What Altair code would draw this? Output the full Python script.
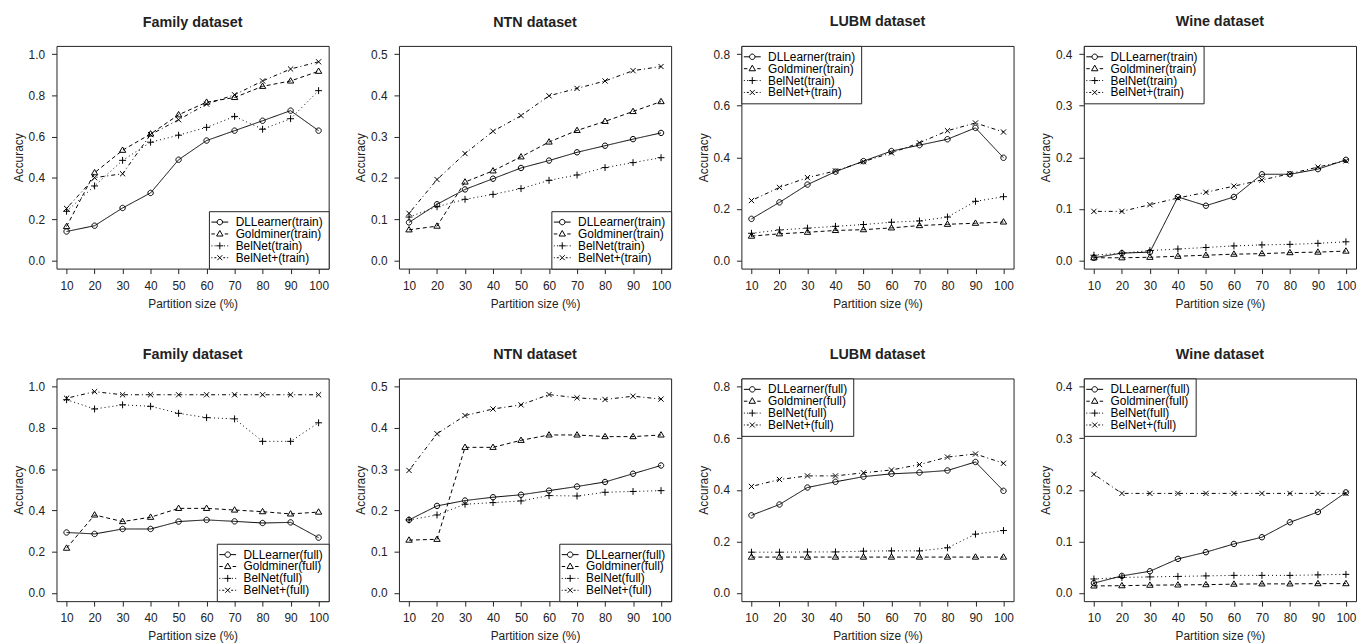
import altair as alt
import pandas as pd

SIZES = [10, 20, 30, 40, 50, 60, 70, 80, 90, 100]
METHODS = ["DLLearner", "Goldminer", "BelNet", "BelNet+"]

FAMILY_TRAIN = {
    "DLLearner": [0.140, 0.168, 0.254, 0.327, 0.488, 0.581, 0.629, 0.677, 0.726, 0.629],
    "Goldminer": [0.164, 0.425, 0.534, 0.613, 0.706, 0.767, 0.790, 0.844, 0.870, 0.917],
    "BelNet":    [0.238, 0.361, 0.485, 0.573, 0.607, 0.645, 0.698, 0.636, 0.687, 0.823],
    "BelNet+":   [0.252, 0.401, 0.420, 0.610, 0.682, 0.758, 0.803, 0.870, 0.928, 0.963],
}
NTN_TRAIN = {
    "DLLearner": [0.092, 0.136, 0.172, 0.198, 0.224, 0.242, 0.262, 0.278, 0.294, 0.309],
    "Goldminer": [0.074, 0.083, 0.190, 0.217, 0.251, 0.287, 0.315, 0.337, 0.361, 0.385],
    "BelNet":    [0.105, 0.130, 0.148, 0.160, 0.174, 0.194, 0.207, 0.225, 0.237, 0.249],
    "BelNet+":   [0.114, 0.196, 0.259, 0.313, 0.351, 0.399, 0.417, 0.435, 0.460, 0.470],
}
LUBM_TRAIN = {
    "DLLearner": [0.161, 0.225, 0.294, 0.344, 0.385, 0.424, 0.447, 0.470, 0.514, 0.398],
    "Goldminer": [0.094, 0.103, 0.109, 0.116, 0.119, 0.126, 0.135, 0.140, 0.144, 0.149],
    "BelNet":    [0.105, 0.118, 0.125, 0.132, 0.139, 0.148, 0.153, 0.168, 0.229, 0.247],
    "BelNet+":   [0.232, 0.283, 0.321, 0.347, 0.383, 0.417, 0.456, 0.503, 0.533, 0.498],
}
WINE_TRAIN = {
    "DLLearner": [0.005, 0.014, 0.016, 0.123, 0.106, 0.123, 0.167, 0.167, 0.177, 0.195],
    "Goldminer": [0.005, 0.005, 0.006, 0.008, 0.010, 0.012, 0.013, 0.015, 0.016, 0.018],
    "BelNet":    [0.010, 0.014, 0.019, 0.022, 0.025, 0.028, 0.030, 0.031, 0.033, 0.036],
    "BelNet+":   [0.095, 0.095, 0.108, 0.121, 0.132, 0.144, 0.156, 0.168, 0.181, 0.193],
}
FAMILY_FULL = {
    "DLLearner": [0.293, 0.286, 0.310, 0.310, 0.346, 0.354, 0.347, 0.339, 0.342, 0.268],
    "Goldminer": [0.217, 0.378, 0.346, 0.367, 0.410, 0.410, 0.402, 0.394, 0.383, 0.392],
    "BelNet":    [0.937, 0.892, 0.912, 0.905, 0.871, 0.850, 0.844, 0.735, 0.735, 0.825],
    "BelNet+":   [0.944, 0.976, 0.961, 0.961, 0.961, 0.961, 0.961, 0.961, 0.961, 0.961],
}
NTN_FULL = {
    "DLLearner": [0.177, 0.211, 0.224, 0.232, 0.238, 0.248, 0.258, 0.269, 0.289, 0.309],
    "Goldminer": [0.128, 0.130, 0.353, 0.353, 0.370, 0.383, 0.383, 0.379, 0.379, 0.383],
    "BelNet":    [0.177, 0.189, 0.215, 0.219, 0.223, 0.236, 0.235, 0.244, 0.246, 0.248],
    "BelNet+":   [0.297, 0.386, 0.430, 0.446, 0.456, 0.481, 0.473, 0.469, 0.477, 0.470],
}
LUBM_FULL = {
    "DLLearner": [0.301, 0.343, 0.409, 0.431, 0.451, 0.462, 0.467, 0.475, 0.508, 0.396],
    "Goldminer": [0.139, 0.139, 0.139, 0.139, 0.139, 0.139, 0.139, 0.139, 0.139, 0.139],
    "BelNet":    [0.158, 0.158, 0.159, 0.159, 0.162, 0.163, 0.163, 0.175, 0.228, 0.242],
    "BelNet+":   [0.413, 0.440, 0.454, 0.454, 0.466, 0.477, 0.498, 0.527, 0.539, 0.503],
}
WINE_FULL = {
    "DLLearner": [0.019, 0.033, 0.042, 0.066, 0.079, 0.095, 0.108, 0.137, 0.157, 0.195],
    "Goldminer": [0.0135, 0.014, 0.015, 0.0155, 0.016, 0.017, 0.0175, 0.0175, 0.018, 0.018],
    "BelNet":    [0.027, 0.030, 0.031, 0.032, 0.033, 0.034, 0.034, 0.034, 0.035, 0.036],
    "BelNet+":   [0.230, 0.193, 0.193, 0.193, 0.193, 0.193, 0.193, 0.193, 0.193, 0.193],
}

TICKS_FAMILY = [0.0, 0.2, 0.4, 0.6, 0.8, 1.0]
TICKS_NTN = [0.0, 0.1, 0.2, 0.3, 0.4, 0.5]
TICKS_LUBM = [0.0, 0.2, 0.4, 0.6, 0.8]
TICKS_WINE = [0.0, 0.1, 0.2, 0.3, 0.4]

FONT = "Liberation Sans"
INK = "#222222"

# marker shapes (R pch 1, 2, 3, 4)
POINT_SHAPES = [
    "M0.78,0A0.78,0.78 0 1,1 -0.78,0A0.78,0.78 0 1,1 0.78,0Z",
    "M0,-0.95L0.92,0.6L-0.92,0.6Z",
    "M-1,0L1,0M0,-1L0,1",
    "M-0.75,-0.75L0.75,0.75M-0.75,0.75L0.75,-0.75",
]
# legend keys: line style + marker
LEGEND_SHAPES = [
    "M-1.7,0L-0.55,0M0.55,0L1.7,0M0.55,0A0.55,0.55 0 1,1 -0.55,0A0.55,0.55 0 1,1 0.55,0Z",
    "M-1.7,0L-1.0,0M1.0,0L1.7,0M0,-0.7L0.65,0.42L-0.65,0.42Z",
    "M-1.7,0L-1.5,0M-1.05,0L-0.85,0M0.85,0L1.05,0M1.5,0L1.7,0M-0.7,0L0.7,0M0,-0.7L0,0.7",
    "M-1.7,0L-1.5,0M-1.1,0L-0.7,0M0.7,0L1.1,0M1.5,0L1.7,0M-0.5,-0.5L0.5,0.5M-0.5,0.5L0.5,-0.5",
]
DASHES = [[1, 0], [4, 3], [1, 3], [1, 3, 4, 3]]

W, H = 275, 225


def panel(title, setting, values, ticks, legend_orient):
    rows = []
    for m in METHODS:
        for s, v in zip(SIZES, values[m]):
            rows.append({"size": s, "acc": v, "method": m, "label": f"{m}({setting})"})
    df = pd.DataFrame(rows)
    top = ticks[-1]
    pad = 0.04 * top
    x = alt.X("size:Q",
              scale=alt.Scale(domain=[6.4, 103.6], nice=False, zero=False),
              axis=alt.Axis(values=SIZES, title="Partition size (%)"))
    y = alt.Y("acc:Q",
              scale=alt.Scale(domain=[-pad, top + pad], nice=False, zero=False),
              axis=alt.Axis(values=ticks, format=".1f", title="Accuracy"))
    base = alt.Chart(df).encode(x=x, y=y)
    lines = base.mark_line(color="black", strokeWidth=1).encode(
        strokeDash=alt.StrokeDash("method:N",
                                  scale=alt.Scale(domain=METHODS, range=DASHES),
                                  legend=None))
    pts = base.mark_point(filled=False, color="black", size=49, strokeWidth=1, opacity=1).encode(
        shape=alt.Shape("method:N",
                        scale=alt.Scale(domain=METHODS, range=POINT_SHAPES),
                        legend=None))
    labels = [f"{m}({setting})" for m in METHODS]
    leg = base.mark_point(filled=False, color="black", opacity=0).encode(
        shape=alt.Shape("label:N",
                        scale=alt.Scale(domain=labels, range=LEGEND_SHAPES),
                        legend=alt.Legend(
                            orient=legend_orient, title=None, offset=0, padding=5,
                            strokeColor=INK, fillColor="white",
                            labelFont=FONT, labelFontSize=12, labelColor="black",
                            symbolSize=100, symbolStrokeWidth=1, symbolStrokeColor="black",
                            symbolOpacity=1, rowPadding=0, labelOffset=10)))
    return alt.layer(lines, pts, leg).resolve_scale(shape="independent").properties(
        width=W, height=H, title=title)


row1 = alt.hconcat(
    panel("Family dataset", "train", FAMILY_TRAIN, TICKS_FAMILY, "bottom-right"),
    panel("NTN dataset", "train", NTN_TRAIN, TICKS_NTN, "bottom-right"),
    panel("LUBM dataset", "train", LUBM_TRAIN, TICKS_LUBM, "top-left"),
    panel("Wine dataset", "train", WINE_TRAIN, TICKS_WINE, "top-left"),
    spacing=24,
).resolve_scale(shape="independent", strokeDash="independent")

row2 = alt.hconcat(
    panel("Family dataset", "full", FAMILY_FULL, TICKS_FAMILY, "bottom-right"),
    panel("NTN dataset", "full", NTN_FULL, TICKS_NTN, "bottom-right"),
    panel("LUBM dataset", "full", LUBM_FULL, TICKS_LUBM, "top-left"),
    panel("Wine dataset", "full", WINE_FULL, TICKS_WINE, "top-left"),
    spacing=24,
).resolve_scale(shape="independent", strokeDash="independent")

chart = alt.vconcat(row1, row2, spacing=36).resolve_scale(
    shape="independent", strokeDash="independent"
).properties(
    padding={"left": 3, "top": 2, "right": 0, "bottom": 0}
).configure_view(
    stroke=INK, strokeWidth=1
).configure_axis(
    grid=False, domain=False, ticks=True, tickSize=5, tickColor=INK, tickWidth=1,
    labelFont=FONT, labelFontSize=12, labelColor=INK, labelPadding=7,
    labelFlush=False, labelOverlap=False,
    titleFont=FONT, titleFontSize=12, titleFontWeight="normal", titleColor=INK,
).configure_axisX(
    titlePadding=7
).configure_axisY(
    titlePadding=3
).configure_title(
    font=FONT, fontSize=14.5, fontWeight="bold", color=INK, anchor="middle",
    frame="group", baseline="alphabetic", offset=16
)

chart.save("out.html", embed_options={"renderer": "svg", "actions": False})
